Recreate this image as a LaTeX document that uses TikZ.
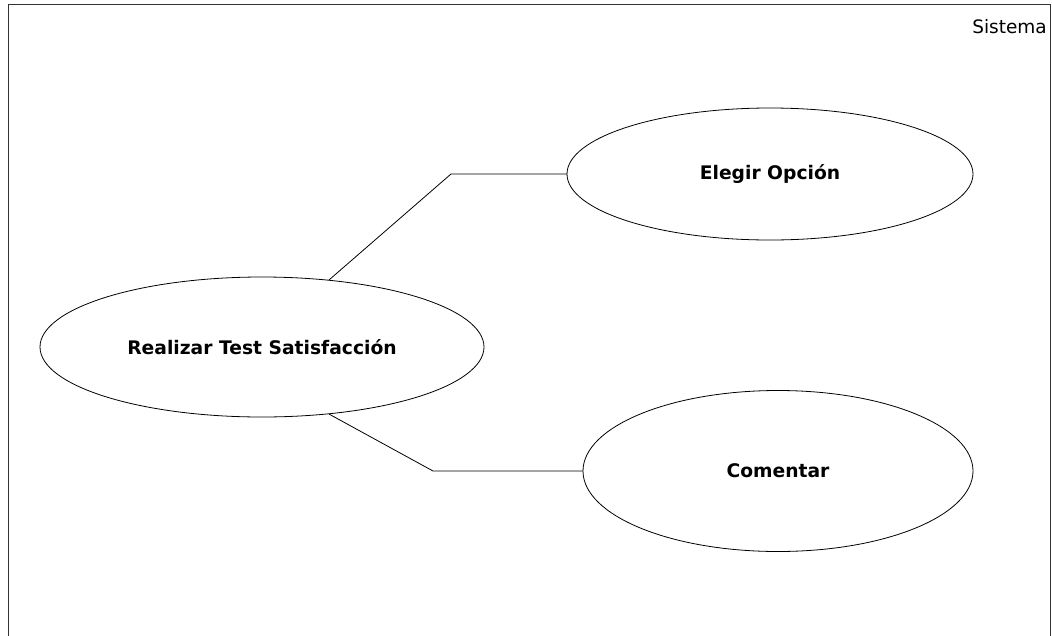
\documentclass[tikz,border=0pt]{standalone}
\usepackage{fontspec}
\setmainfont{DejaVu Sans}
\usetikzlibrary{shapes.geometric}

\begin{document}
\begin{tikzpicture}[x=1pt, y=-1pt, line cap=round,
  usecase/.style={ellipse, draw=black, line width=0.8pt, inner sep=0pt, font=\fontsize{18.7}{22}\selectfont\bfseries},
  assoc/.style={draw=black, line width=0.8pt}]
\useasboundingbox (0,0) rectangle (1052,635);
% system frame (open at the bottom)
\draw[black!80, line width=1pt] (8,640) -- (8,4) -- (1050,4) -- (1050,640);
\node[font=\fontsize{18.5}{22}\selectfont, anchor=east, inner sep=0pt] (sys) at (1047,27) {Sistema};
% use cases
\node[usecase, minimum width=444pt, minimum height=140pt] (test) at (262,347) {Realizar Test Satisfacción};
\node[usecase, minimum width=406pt, minimum height=132pt] (opcion) at (770,174) {Elegir Opción};
\node[usecase, minimum width=390pt, minimum height=161pt] (comentar) at (778,471) {Comentar};
% associations
\coordinate (k1) at (451,174);
\coordinate (k2) at (433,471);
\draw[assoc] (test.45) -- (k1) -- (opcion.west);
\draw[assoc] (test.-45) -- (k2) -- (comentar.west);
\end{tikzpicture}
\end{document}
